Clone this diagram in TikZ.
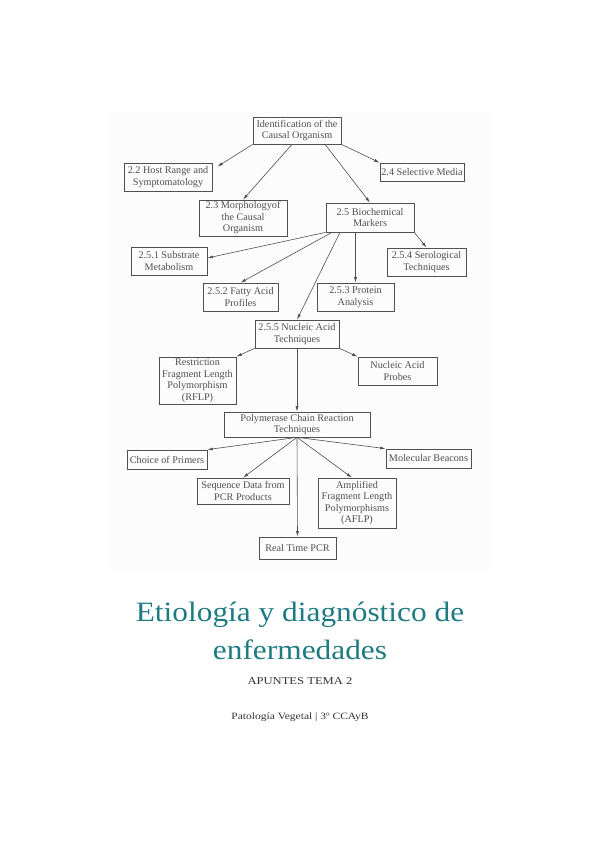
\documentclass[tikz,border=0pt]{standalone}
\usepackage{fontspec}
\usetikzlibrary{arrows.meta}
\setmainfont{Liberation Serif}
\newfontfamily\titlefont{Liberation Serif}[FakeStretch=1.12]
\newfontfamily\smallfont{Liberation Serif}[FakeStretch=1.2]
\definecolor{tealtitle}{RGB}{31,123,130}
\definecolor{scanink}{RGB}{80,80,80}
\begin{document}
\begin{tikzpicture}[x=1pt,y=-1pt,
  box/.style={draw=scanink,line width=0.7pt,text=scanink,inner sep=0pt,align=center,
    font=\fontsize{10.2}{11.5}\selectfont},
  arr/.style={->,>={Latex[length=5.5pt,width=3pt]},draw=scanink,line width=0.6pt}]
\useasboundingbox (0,0) rectangle (600,848);
\fill[black!1] (110,112) rectangle (490,570);
\node[box,minimum width=88pt,minimum height=27pt] (ID) at (297,130.5) {Identification of the\\Causal Organism};
\node[box,minimum width=88pt,minimum height=28pt] (HR) at (168,177) {2.2 Host Range and\\Symptomatology};
\node[box,minimum width=88pt,minimum height=36pt] (MC) at (243,218) {2.3 Morphologyof\\the Causal\\Organism};
\node[box,minimum width=84pt,minimum height=18pt] (SM) at (422,172) {2.4 Selective Media};
\node[box,minimum width=88pt,minimum height=29pt] (BM) at (370,217.5) {2.5 Biochemical\\Markers};
\node[box,minimum width=76pt,minimum height=28pt] (SU) at (169,261) {2.5.1 Substrate\\Metabolism};
\node[box,minimum width=75pt,minimum height=28pt] (FA) at (240.5,297) {2.5.2 Fatty Acid\\Profiles};
\node[box,minimum width=77pt,minimum height=28pt] (PA) at (355.5,297) {2.5.3 Protein\\Analysis};
\node[box,minimum width=79pt,minimum height=28pt] (ST) at (426.5,262) {2.5.4 Serological\\Techniques};
\node[box,minimum width=84pt,minimum height=28pt] (NA) at (297,334) {2.5.5 Nucleic Acid\\Techniques};
\node[box,minimum width=77pt,minimum height=47pt] (RF) at (197.5,380.5) {Restriction\\Fragment Length\\Polymorphism\\(RFLP)};
\node[box,minimum width=79pt,minimum height=28pt] (NP) at (397.5,371) {Nucleic Acid\\Probes};
\node[box,minimum width=146pt,minimum height=25pt] (PC) at (297,424.5) {Polymerase Chain Reaction\\Techniques};
\node[box,minimum width=80pt,minimum height=19pt] (CP) at (167,459.5) {Choice of Primers};
\node[box,minimum width=92pt,minimum height=26pt] (SD) at (243,491) {Sequence Data from\\PCR Products};
\node[box,minimum width=78pt,minimum height=50pt] (AF) at (357,503) {Amplified\\Fragment Length\\Polymorphisms\\(AFLP)};
\node[box,minimum width=85pt,minimum height=19pt] (MB) at (428.5,458.5) {Molecular Beacons};
\node[box,minimum width=77pt,minimum height=22pt] (RT) at (297.5,548) {Real Time PCR};
% first level
\draw[arr] (ID.south west) -- ([xshift=5pt,yshift=-4pt]HR.north east);
\draw[arr] ([xshift=-5pt]ID.south) -- (MC.north);
\draw[arr] (ID.south east) -- (SM.north west);
\draw[arr] ([xshift=28pt]ID.south) -- (BM.north);
% biochemical markers
\draw[arr] (BM.south west) -- ([yshift=3pt]SU.east);
\draw[arr] ([xshift=-38pt]BM.south) -- (FA.north);
\draw[arr] ([xshift=-30pt]BM.south) -- (NA.north);
\draw[arr] (PA.north |- BM.south) -- (PA.north);
\draw[arr] (BM.south east) -- (ST.north);
% nucleic acids
\draw[arr] (NA.south west) -- (RF.north east);
\draw[arr] (NA.south east) -- (NP.north west);
\draw[arr] (NA.south) -- (PC.north);
% PCR
\draw[arr] (PC.south) -- (CP.north east);
\draw[arr] (PC.south) -- (SD.north);
\draw[arr] (PC.south) -- (RT.north);
\draw[arr] (PC.south) -- ([xshift=-5pt]AF.north);
\draw[arr] (PC.south) -- (MB.north west);
% cover text
\node[anchor=base,text=tealtitle,font=\titlefont\fontsize{28}{34}\selectfont] (T1) at (300,621.5) {Etiología y diagnóstico de};
\node[anchor=base,text=tealtitle,font=\titlefont\fontsize{28}{34}\selectfont] (T2) at (300,659) {enfermedades};
\node[anchor=base,text=black!80,font=\smallfont\fontsize{10.5}{12}\selectfont] (T3) at (300,684) {APUNTES TEMA 2};
\node[anchor=base,text=black!80,font=\smallfont\fontsize{9.6}{12}\selectfont] (T4) at (300,719) {Patología Vegetal | 3º CCAyB};
\end{tikzpicture}
\end{document}
